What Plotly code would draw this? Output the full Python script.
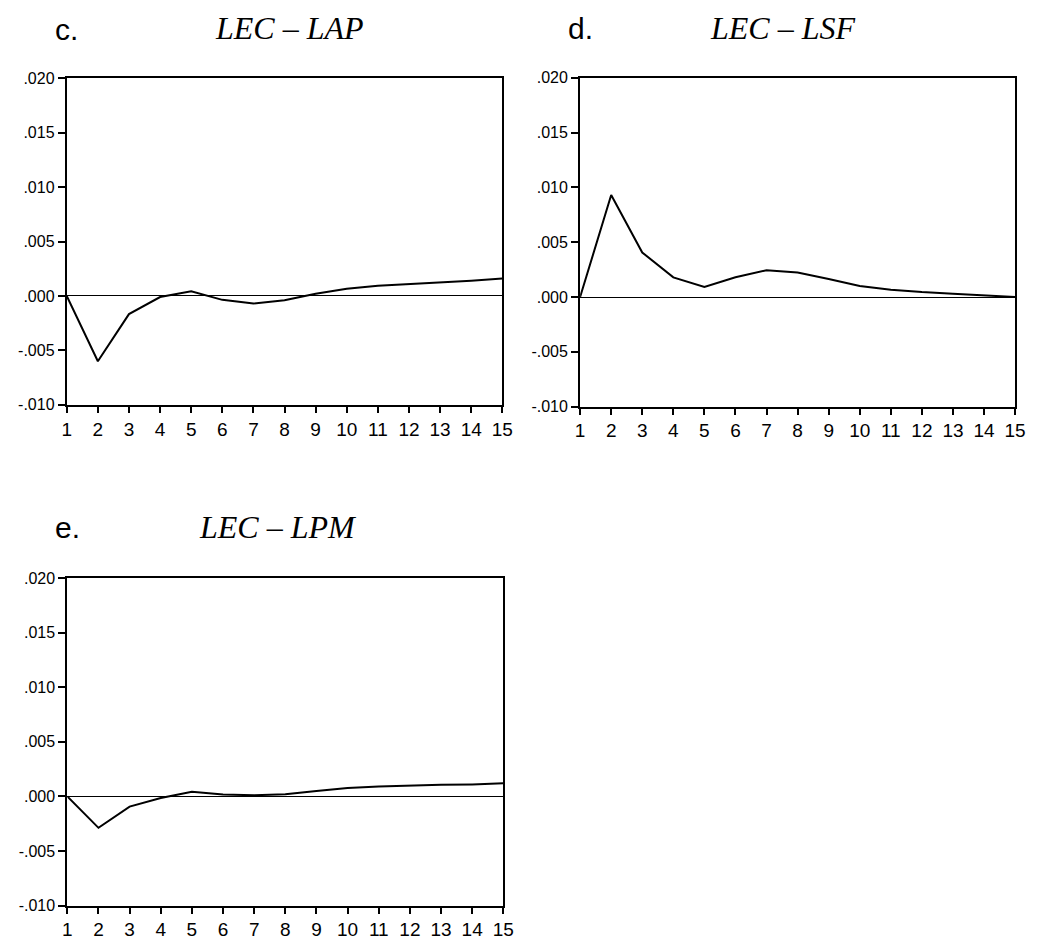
import plotly.graph_objects as go

# Impulse responses over 15 periods
periods = list(range(1, 16))
lec_lap = [0.0, -0.0060, -0.00167, -0.0001, 0.00042, -0.00036, -0.0007, -0.0004,
           0.0002, 0.00067, 0.00094, 0.0011, 0.0012, 0.0014, 0.0016]
lec_lsf = [0.0, 0.0093, 0.00406, 0.00179, 0.00091, 0.0018, 0.00245, 0.00224,
           0.00164, 0.0010, 0.00067, 0.00045, 0.0003, 0.00015, 0.0]
lec_lpm = [0.0, -0.00288, -0.00094, -0.00015, 0.00042, 0.00018, 0.0001, 0.0002,
           0.0005, 0.00076, 0.0009, 0.0010, 0.00106, 0.0011, 0.0012]

y_tick_vals = [-0.010, -0.005, 0.0, 0.005, 0.010, 0.015, 0.020]
y_tick_text = ["-.010", "-.005", ".000", ".005", ".010", ".015", ".020"]
x_tick_text = [str(p) for p in periods]

panel_letters = ["c.", "d.", "e."]
panel_titles = ["LEC \u2013 LAP", "LEC \u2013 LSF", "LEC \u2013 LPM"]
series = [lec_lap, lec_lsf, lec_lpm]

W, H = 1052, 942

# plot boxes in pixels: (left, right, top, bottom)
boxes = [(62.7, 505.0, 71.7, 404.0),
         (584.0, 1025.7, 71.0, 406.0),
         (63.3, 506.0, 580.7, 914.0)]
# letter position (left, middle-y) and title centre (x, middle-y)
letter_pos = [(49, 22), (570, 21), (49, 529)]
title_pos = [(289, 20), (790, 20), (277, 529)]


def px_x(v):
    return v / W


def px_y(v):
    return 1 - v / H


fig = go.Figure()
layout_axes = {}
annotations = []

for i, (vals, box) in enumerate(zip(series, boxes)):
    n = "" if i == 0 else str(i + 1)
    xa, ya = "x" + n, "y" + n
    fig.add_trace(go.Scatter(
        x=periods, y=vals, mode="lines",
        line=dict(color="black", width=2),
        xaxis=xa, yaxis=ya, showlegend=False, hoverinfo="skip"))

    left, right, top, bottom = box
    layout_axes["xaxis" + n] = dict(
        domain=[px_x(left), px_x(right)], anchor=ya,
        range=[1, 15], tickmode="array", tickvals=periods, ticktext=x_tick_text,
        ticks="outside", ticklen=6, tickwidth=1.5, tickcolor="black",
        showline=True, linecolor="black", linewidth=2, mirror=True,
        showgrid=False, zeroline=False,
        tickfont=dict(family="Liberation Sans, Arial", size=19, color="black"),
    )
    layout_axes["yaxis" + n] = dict(
        domain=[px_y(bottom), px_y(top)], anchor=xa,
        range=[-0.010, 0.020], tickmode="array", tickvals=y_tick_vals,
        ticktext=y_tick_text,
        ticks="outside", ticklen=7, tickwidth=1.5, tickcolor="black",
        showline=True, linecolor="black", linewidth=2, mirror=True,
        showgrid=False, zeroline=True, zerolinecolor="black", zerolinewidth=1.3,
        tickfont=dict(family="Liberation Sans, Arial", size=16, color="black"),
    )

    lx, ly = letter_pos[i]
    annotations.append(dict(
        text=panel_letters[i], xref="paper", yref="paper",
        x=px_x(lx), y=px_y(ly), xanchor="left", yanchor="middle",
        showarrow=False,
        font=dict(family="Liberation Sans, Arial", size=30, color="black")))
    tx, ty = title_pos[i]
    annotations.append(dict(
        text="<i>" + panel_titles[i] + "</i>", xref="paper", yref="paper",
        x=px_x(tx), y=px_y(ty), xanchor="center", yanchor="middle",
        showarrow=False,
        font=dict(family="Liberation Serif, Times New Roman", size=32, color="black")))

fig.update_layout(
    width=W, height=H,
    margin=dict(l=0, r=0, t=0, b=0),
    paper_bgcolor="white", plot_bgcolor="white",
    annotations=annotations,
    **layout_axes,
)

fig.write_html("out.html", config={"displayModeBar": False})
